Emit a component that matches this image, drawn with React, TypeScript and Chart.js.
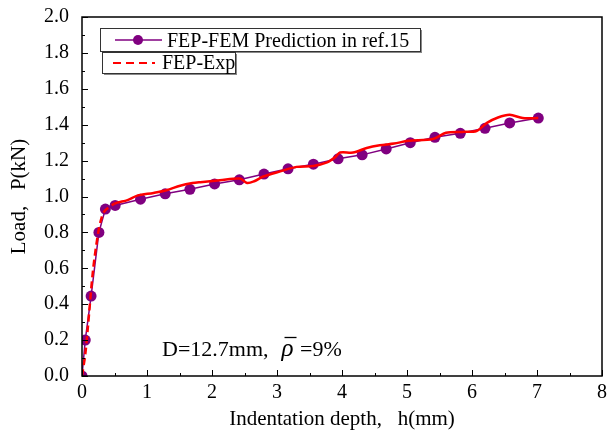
import React, { useEffect, useRef } from "react";
import { Chart, registerables } from "chart.js";

Chart.register(...registerables);

const femX = [0, 0.05, 0.14, 0.26, 0.36, 0.51, 0.9, 1.28, 1.66, 2.04, 2.42, 2.8, 3.17, 3.56, 3.94, 4.31, 4.68, 5.05, 5.43, 5.82, 6.2, 6.58, 7.02];
const femY = [0, 0.2, 0.445, 0.8, 0.93, 0.95, 0.985, 1.015, 1.04, 1.07, 1.093, 1.125, 1.154, 1.18, 1.21, 1.232, 1.265, 1.3, 1.33, 1.352, 1.38, 1.41, 1.437];

const expX = [0, 0.05, 0.09, 0.17, 0.25, 0.3, 0.35, 0.5, 0.7, 0.85, 1.1, 1.3, 1.51, 1.7, 1.82, 2.12, 2.43, 2.54, 2.65, 2.78, 3.05, 3.3, 3.56, 3.77, 3.9, 3.97, 4.17, 4.38, 4.58, 4.8, 5.02, 5.4, 5.6, 5.85, 6.07, 6.23, 6.4, 6.58, 6.78, 7.02];
const expY = [0, 0.12, 0.27, 0.59, 0.8, 0.88, 0.92, 0.96, 0.98, 1.005, 1.02, 1.035, 1.06, 1.075, 1.08, 1.09, 1.1, 1.075, 1.085, 1.11, 1.14, 1.165, 1.17, 1.19, 1.22, 1.245, 1.245, 1.27, 1.285, 1.295, 1.31, 1.32, 1.355, 1.36, 1.365, 1.41, 1.44, 1.455, 1.437, 1.437];

const xTickValues = [0, 1, 2, 3, 4, 5, 6, 7, 8];
const yTickValues = [0, 0.2, 0.4, 0.6, 0.8, 1.0, 1.2, 1.4, 1.6, 1.8, 2.0];

const femLabel = "FEP-FEM Prediction in ref.15";
const expLabel = "FEP-Exp";
const xTitle = "Indentation depth,   h(mm)";
const yTitle = "Load,   P(kN)";

const FONT = "'Liberation Serif', 'Times New Roman', serif";
const PURPLE = "#800080";
const RED = "#ff0000";

const decorPlugin = {
  id: "decor",
  afterDraw(chart: any) {
    const { ctx, chartArea: a, scales } = chart;
    const xs = scales.x;
    const ys = scales.y;
    ctx.save();
    // frame
    ctx.strokeStyle = "#000";
    ctx.lineWidth = 1.5;
    ctx.strokeRect(a.left, a.top, a.right - a.left, a.bottom - a.top);
    // inward ticks
    ctx.lineWidth = 1;
    for (let v = 0; v <= 8.001; v += 0.5) {
      const px = Math.round(xs.getPixelForValue(v)) + 0.5;
      const major = Math.abs(v - Math.round(v)) < 1e-6;
      ctx.beginPath();
      ctx.moveTo(px, a.bottom);
      ctx.lineTo(px, a.bottom - (major ? 6 : 3));
      ctx.stroke();
    }
    for (let v = 0; v <= 2.001; v += 0.1) {
      const py = Math.round(ys.getPixelForValue(v)) + 0.5;
      const major = Math.abs(v * 5 - Math.round(v * 5)) < 1e-6;
      ctx.beginPath();
      ctx.moveTo(a.left, py);
      ctx.lineTo(a.left + (major ? 6 : 3), py);
      ctx.stroke();
    }
    // y title
    ctx.save();
    ctx.translate(19, (a.top + a.bottom) / 2);
    ctx.rotate(-Math.PI / 2);
    ctx.font = `21px ${FONT}`;
    ctx.fillStyle = "#000";
    ctx.textAlign = "center";
    ctx.textBaseline = "middle";
    ctx.fillText(yTitle, 0, 0);
    ctx.restore();
    // legend boxes
    const drawBox = (x: number, y: number, w: number, h: number) => {
      ctx.fillStyle = "#888";
      ctx.fillRect(x + 2, y + 2, w, h);
      ctx.fillStyle = "#fff";
      ctx.fillRect(x, y, w, h);
      ctx.strokeStyle = "#333";
      ctx.lineWidth = 1;
      ctx.strokeRect(x + 0.5, y + 0.5, w, h);
    };
    drawBox(100, 28, 320, 23);
    drawBox(102, 52, 133, 21);
    ctx.font = `20px ${FONT}`;
    ctx.fillStyle = "#000";
    ctx.textBaseline = "alphabetic";
    ctx.textAlign = "left";
    // legend 1
    ctx.strokeStyle = PURPLE;
    ctx.lineWidth = 1.5;
    ctx.beginPath();
    ctx.moveTo(115, 40);
    ctx.lineTo(162, 40);
    ctx.stroke();
    ctx.fillStyle = PURPLE;
    ctx.beginPath();
    ctx.arc(138, 40, 5, 0, Math.PI * 2);
    ctx.fill();
    ctx.fillStyle = "#000";
    ctx.fillText(femLabel, 167, 47);
    // legend 2
    ctx.strokeStyle = RED;
    ctx.lineWidth = 2;
    ctx.setLineDash([8, 5]);
    ctx.beginPath();
    ctx.moveTo(113, 63);
    ctx.lineTo(155, 63);
    ctx.stroke();
    ctx.setLineDash([]);
    ctx.fillText(expLabel, 162, 69);
    // annotation
    ctx.font = `22px ${FONT}`;
    const t1 = "D=12.7mm,  ";
    ctx.fillText(t1, 162, 356);
    let x = 162 + ctx.measureText(t1).width;
    ctx.font = `italic 25px ${FONT}`;
    const rho = "\u03C1";
    ctx.fillText(rho, x + 2, 356);
    const rw = ctx.measureText(rho).width;
    ctx.lineWidth = 1.3;
    ctx.strokeStyle = "#000";
    ctx.beginPath();
    ctx.moveTo(x + 5, 337.5);
    ctx.lineTo(x + rw + 5, 337.5);
    ctx.stroke();
    ctx.font = `22px ${FONT}`;
    ctx.fillText(" =9%", x + rw + 3, 356);
    ctx.restore();
  },
};

export default function App() {
  const ref = useRef<HTMLCanvasElement | null>(null);
  useEffect(() => {
    if (!ref.current) return;
    const chart = new Chart(ref.current, {
      type: "scatter",
      data: {
        datasets: [
          {
            label: femLabel,
            data: femX.map((x, i) => ({ x, y: femY[i] })),
            showLine: true,
            borderColor: PURPLE,
            backgroundColor: PURPLE,
            borderWidth: 1.5,
            pointRadius: 5.5,
            pointBorderWidth: 0,
            pointHoverRadius: 5.5,
            order: 2,
          },
          {
            label: expLabel,
            data: expX.map((x, i) => ({ x, y: expY[i] })),
            showLine: true,
            borderColor: RED,
            backgroundColor: RED,
            borderWidth: 2.5,
            pointRadius: 0,
            tension: 0.3,
            segment: {
              borderDash: (c: any) => (c.p0.parsed.x < 0.5 ? [7, 4] : undefined),
            },
            order: 1,
          },
        ],
      },
      options: {
        animation: false,
        responsive: false,
        layout: { padding: { top: 17, right: 6, left: 0, bottom: 0 } },
        plugins: { legend: { display: false }, tooltip: { enabled: false } },
        scales: {
          x: {
            type: "linear",
            min: 0,
            max: 8,
            afterFit: (s: any) => { s.height = 58; },
            afterBuildTicks: (s: any) => { s.ticks = xTickValues.map((v) => ({ value: v })); },
            grid: { display: false },
            border: { display: false },
            ticks: {
              color: "#000",
              font: { family: FONT, size: 20 },
              padding: -3,
              callback: (v: any) => String(v),
            },
            title: {
              display: true,
              text: xTitle,
              color: "#000",
              font: { family: FONT, size: 21 },
              padding: { top: 4, bottom: 2 },
            },
          },
          y: {
            type: "linear",
            min: 0,
            max: 2,
            afterFit: (s: any) => { s.width = 82; },
            afterBuildTicks: (s: any) => { s.ticks = yTickValues.map((v) => ({ value: v })); },
            grid: { display: false },
            border: { display: false },
            ticks: {
              color: "#000",
              font: { family: FONT, size: 20 },
              padding: 5,
              callback: (v: any) => Number(v).toFixed(1),
            },
            title: { display: false },
          },
        },
      },
      plugins: [decorPlugin],
    } as any);
    return () => chart.destroy();
  }, []);
  return (
    <div style={{ position: "absolute", left: 0, top: 0, width: 608, height: 434, background: "#fff" }}>
      <canvas ref={ref} width={608} height={434} style={{ display: "block" }} />
    </div>
  );
}
